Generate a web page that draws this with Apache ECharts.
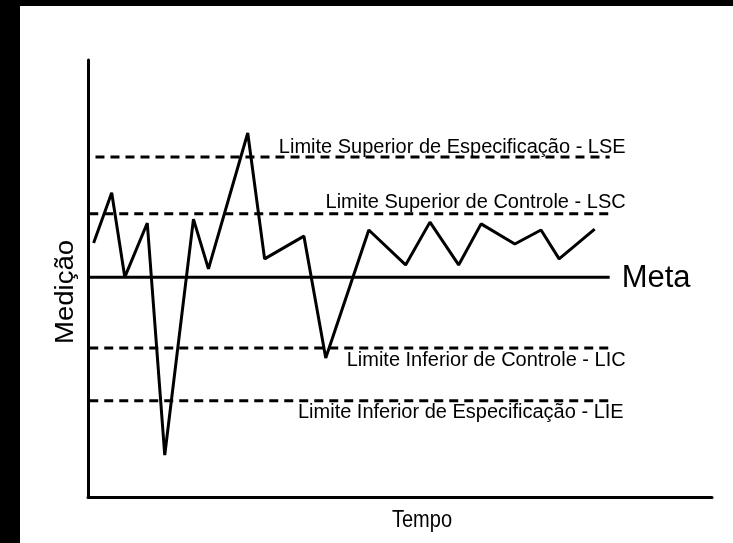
<!DOCTYPE html>
<html>
<head>
<meta charset="utf-8">
<script src="https://cdn.jsdelivr.net/npm/echarts@6/dist/echarts.min.js"></script>
<style>
  html, body { margin: 0; padding: 0; background: #fff; }
  #chart { width: 733px; height: 543px; }
</style>
</head>
<body>
<div id="chart"></div>
<script>
var tempo = [0.9, 3.8, 5.9, 9.5, 12.3, 16.9, 19.3, 25.6, 28.3, 34.6, 38.1, 45.0, 50.9, 54.8, 59.4, 63.0, 68.4, 72.6, 75.5, 81.2];
var medicao = [58.1, 69.6, 50.3, 62.7, 9.6, 63.6, 52.2, 83.3, 54.5, 59.7, 31.8, 61.1, 53.1, 62.9, 53.1, 62.5, 57.9, 61.1, 54.5, 61.3];

// Reference lines
var limitNames = ['Limite Superior de Especificação - LSE', 'Limite Superior de Controle - LSC',
                  'Limite Inferior de Controle - LIC', 'Limite Inferior de Especificação - LIE'];
var limitValues = [77.8, 64.8, 34.1, 22.0];
var limitStart = [1.2, 0.2, 0.2, 0.2];
var lineEnd = 83.6;
var metaName = 'Meta';
var metaValue = 50.3;
var xName = 'Tempo';
var yName = 'Medição';

var chart = echarts.init(document.getElementById('chart'));

var fontFam = '"Liberation Sans", Arial, sans-serif';

var series = [];

// measurement line
var pts = [];
for (var i = 0; i < tempo.length; i++) {
  pts.push([tempo[i], medicao[i]]);
}
series.push({
  type: 'line',
  data: pts,
  symbol: 'none',
  lineStyle: {color: '#000', width: 3},
  z: 5
});

// meta line
series.push({
  type: 'line',
  data: [[0.2, metaValue], [lineEnd, metaValue]],
  symbol: 'none',
  lineStyle: {color: '#000', width: 3},
  endLabel: {
    show: true,
    formatter: metaName,
    fontSize: 31,
    fontFamily: fontFam,
    color: '#000',
    distance: 12,
    offset: [0, 1]
  }
});

// dashed limit lines
for (var k = 0; k < limitValues.length; k++) {
  series.push({
    type: 'line',
    data: [[limitStart[k], limitValues[k]], [lineEnd, limitValues[k]]],
    symbol: 'none',
    lineStyle: {color: '#000', width: 3, type: [9, 6]}
  });
}

chart.setOption({
  animation: false,
  backgroundColor: '#fff',
  grid: {left: 88, right: 21, top: 60, bottom: 46},
  xAxis: {
    type: 'value',
    min: 0,
    max: 100,
    axisLine: {onZero: false, lineStyle: {color: '#000', width: 3}},
    axisTick: {show: false},
    axisLabel: {show: false},
    splitLine: {show: false}
  },
  yAxis: {
    type: 'value',
    min: 0,
    max: 100,
    axisLine: {show: true, onZero: false, lineStyle: {color: '#000', width: 3}},
    axisTick: {show: false},
    axisLabel: {show: false},
    splitLine: {show: false}
  },
  series: series
});

// axis titles and labels of the limit lines (right aligned past the line end)
var labelDx = [16, 16, 16, 14];
var labelDy = [-9.5, -11.5, 13, 12];
var graphicElements = [
  {type: 'rect', shape: {x: 0, y: 0, width: 733, height: 6}, style: {fill: '#000'}, silent: true},
  {type: 'rect', shape: {x: 0, y: 0, width: 20, height: 543}, style: {fill: '#000'}, silent: true},
  {
    type: 'text',
    x: 66,
    y: 292,
    rotation: Math.PI / 2,
    scaleX: 1.1,
    style: {
      text: yName,
      fontSize: 25,
      fontFamily: fontFam,
      fill: '#000',
      align: 'center',
      verticalAlign: 'middle'
    },
    silent: true
  },
  {
    type: 'text',
    x: 422,
    y: 521,
    scaleX: 0.87,
    style: {
      text: xName,
      fontSize: 23,
      fontFamily: fontFam,
      fill: '#000',
      align: 'center',
      verticalAlign: 'middle'
    },
    silent: true
  }
];
for (var g = 0; g < limitValues.length; g++) {
  var p = chart.convertToPixel({gridIndex: 0}, [lineEnd, limitValues[g]]);
  graphicElements.push({
    type: 'text',
    x: p[0] + labelDx[g],
    y: p[1] + labelDy[g],
    style: {
      text: limitNames[g],
      fontSize: 20,
      fontFamily: fontFam,
      fill: '#000',
      align: 'right',
      verticalAlign: 'middle'
    },
    silent: true
  });
}
chart.setOption({graphic: graphicElements});
</script>
</body>
</html>
